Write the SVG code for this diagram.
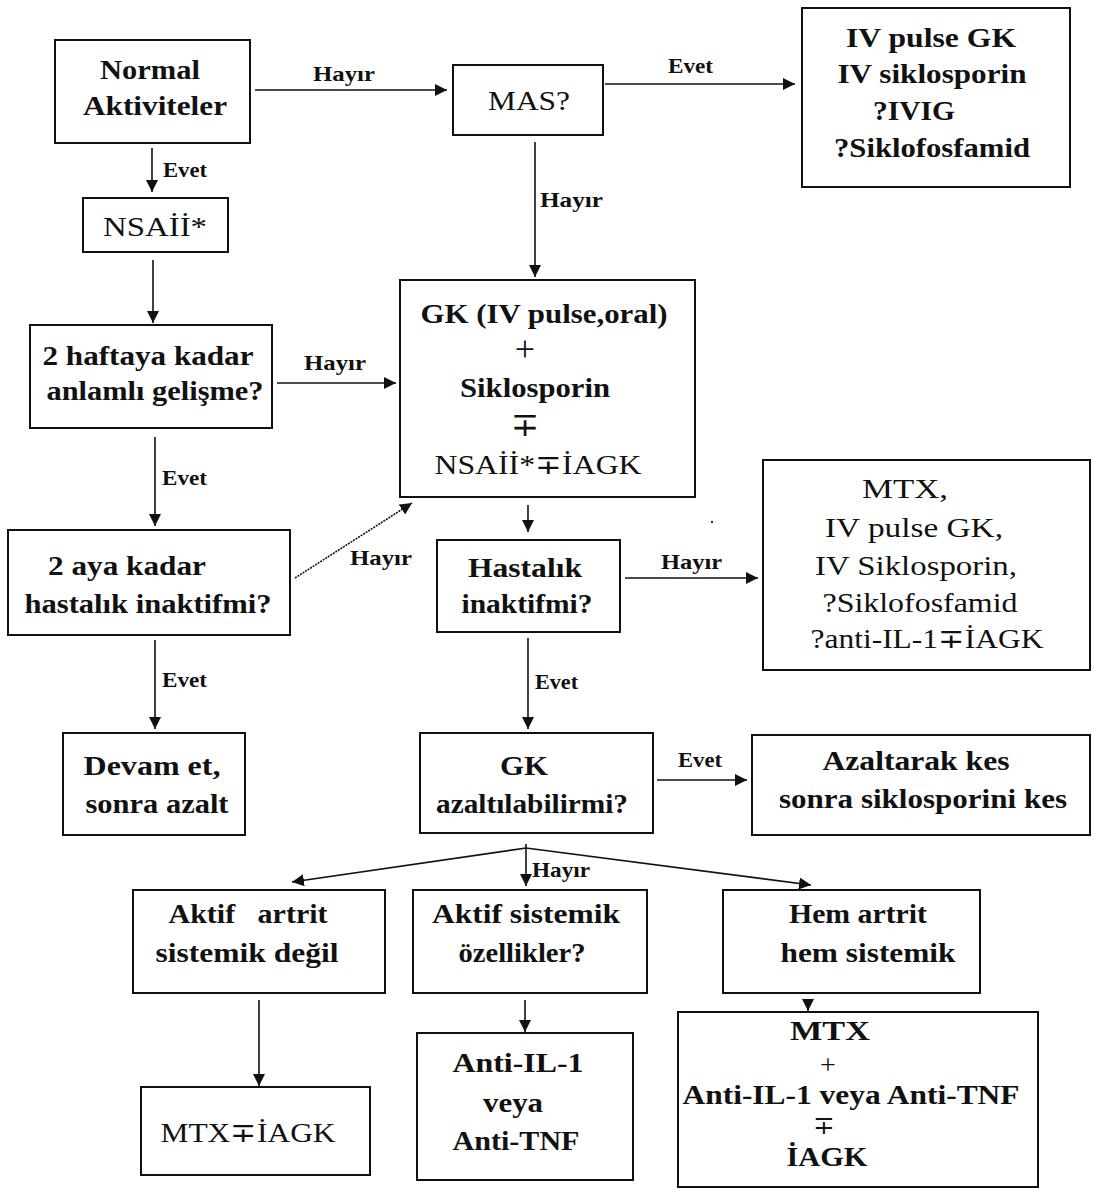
<svg xmlns="http://www.w3.org/2000/svg" width="1094" height="1189" viewBox="0 0 1094 1189">
<style>
.box{fill:#fff;stroke:#111;stroke-width:2}
.t{font-family:"Liberation Serif","Times New Roman",serif;font-size:27px;fill:#111;text-anchor:middle}
.b{font-weight:bold}
.op{font-family:"Liberation Serif","DejaVu Serif",serif;font-weight:normal;fill:#111;text-anchor:middle}
.lbl{font-family:"Liberation Serif","Times New Roman",serif;font-size:22px;font-weight:bold;fill:#111;text-anchor:start}
.c{stroke:#111;stroke-width:1.6;fill:none}
</style>
<defs>
<marker id="ah" markerUnits="userSpaceOnUse" markerWidth="12" markerHeight="12" refX="10" refY="5" orient="auto" viewBox="0 0 10 10">
<path d="M0,0 L10,5 L0,10 z" fill="#111"/>
</marker>
</defs>
<rect width="1094" height="1189" fill="#fff"/>

<g id="connectors">
<line class="c" x1="255" y1="90" x2="447" y2="90" marker-end="url(#ah)"/>
<text class="lbl" x="313" y="81" textLength="62" lengthAdjust="spacingAndGlyphs">Hayır</text>
<line class="c" x1="605" y1="84" x2="795" y2="84" marker-end="url(#ah)"/>
<text class="lbl" x="668" y="73" textLength="45" lengthAdjust="spacingAndGlyphs">Evet</text>
<line class="c" x1="152" y1="148" x2="152" y2="192" marker-end="url(#ah)"/>
<text class="lbl" x="163" y="177" textLength="44" lengthAdjust="spacingAndGlyphs">Evet</text>
<line class="c" x1="153" y1="260" x2="153" y2="323" marker-end="url(#ah)"/>
<line class="c" x1="535" y1="142" x2="535" y2="277" marker-end="url(#ah)"/>
<text class="lbl" x="540" y="207" textLength="63" lengthAdjust="spacingAndGlyphs">Hayır</text>
<line class="c" x1="277" y1="383" x2="396" y2="383" marker-end="url(#ah)"/>
<text class="lbl" x="304" y="370" textLength="62" lengthAdjust="spacingAndGlyphs">Hayır</text>
<line class="c" x1="155" y1="437" x2="155" y2="526" marker-end="url(#ah)"/>
<text class="lbl" x="162" y="485" textLength="45" lengthAdjust="spacingAndGlyphs">Evet</text>
<line class="c" x1="295" y1="578" x2="412" y2="503" stroke-width="1.2" stroke-dasharray="2,1" marker-end="url(#ah)"/>
<text class="lbl" x="350" y="565" textLength="62" lengthAdjust="spacingAndGlyphs">Hayır</text>
<line class="c" x1="155" y1="640" x2="155" y2="729" marker-end="url(#ah)"/>
<text class="lbl" x="162" y="687" textLength="45" lengthAdjust="spacingAndGlyphs">Evet</text>
<line class="c" x1="528" y1="505" x2="528" y2="532" marker-end="url(#ah)"/>
<line class="c" x1="625" y1="578" x2="758" y2="578" marker-end="url(#ah)"/>
<text class="lbl" x="661" y="569" textLength="61" lengthAdjust="spacingAndGlyphs">Hayır</text>
<line class="c" x1="528" y1="638" x2="528" y2="729" marker-end="url(#ah)"/>
<text class="lbl" x="535" y="689" textLength="43" lengthAdjust="spacingAndGlyphs">Evet</text>
<line class="c" x1="657" y1="780" x2="747" y2="780" marker-end="url(#ah)"/>
<text class="lbl" x="678" y="767" textLength="44" lengthAdjust="spacingAndGlyphs">Evet</text>
<line class="c" x1="526" y1="844" x2="526" y2="886" marker-end="url(#ah)"/>
<line class="c" x1="526" y1="848" x2="292" y2="882" marker-end="url(#ah)"/>
<line class="c" x1="526" y1="848" x2="811" y2="885" marker-end="url(#ah)"/>
<text class="lbl" x="532" y="877" textLength="58" lengthAdjust="spacingAndGlyphs">Hayır</text>
<line class="c" x1="259" y1="1000" x2="259" y2="1086" marker-end="url(#ah)"/>
<line class="c" x1="525" y1="1000" x2="525" y2="1032" marker-end="url(#ah)"/>
<line class="c" x1="808" y1="1000" x2="808" y2="1011" marker-end="url(#ah)"/>
<circle cx="712" cy="522" r="1.2" fill="#333"/>
</g>

<g id="n-normal">
<rect class="box" x="55" y="40" width="195" height="103"/>
<text class="t b" x="150" y="79" textLength="100" lengthAdjust="spacingAndGlyphs">Normal</text>
<text class="t b" x="155" y="115" textLength="144" lengthAdjust="spacingAndGlyphs">Aktiviteler</text>
</g>

<g id="n-mas">
<rect class="box" x="453" y="65" width="150" height="70"/>
<text class="t" x="529" y="110" textLength="82" lengthAdjust="spacingAndGlyphs">MAS?</text>
</g>

<g id="n-ivpulse">
<rect class="box" x="802" y="8" width="268" height="179"/>
<text class="t b" x="931" y="47" textLength="170" lengthAdjust="spacingAndGlyphs">IV pulse GK</text>
<text class="t b" x="932" y="83" textLength="189" lengthAdjust="spacingAndGlyphs">IV siklosporin</text>
<text class="t b" x="914" y="120" textLength="82" lengthAdjust="spacingAndGlyphs">?IVIG</text>
<text class="t b" x="932" y="157" textLength="196" lengthAdjust="spacingAndGlyphs">?Siklofosfamid</text>
</g>

<g id="n-nsaii">
<rect class="box" x="83" y="198" width="145" height="54"/>
<text class="t" x="155" y="236" textLength="104" lengthAdjust="spacingAndGlyphs">NSAİİ*</text>
</g>

<g id="n-2hafta">
<rect class="box" x="30" y="325" width="242" height="103"/>
<text class="t b" x="148" y="365" textLength="211" lengthAdjust="spacingAndGlyphs">2 haftaya kadar</text>
<text class="t b" x="155" y="400" textLength="217" lengthAdjust="spacingAndGlyphs">anlamlı gelişme?</text>
</g>

<g id="n-gk">
<rect class="box" x="400" y="280" width="295" height="217"/>
<text class="t b" x="544" y="323" textLength="247" lengthAdjust="spacingAndGlyphs">GK (IV pulse,oral)</text>
<text class="op" x="525" y="361" style="font-size:36px">+</text>
<text class="t b" x="535" y="397" textLength="150" lengthAdjust="spacingAndGlyphs">Siklosporin</text>
<text class="op" x="525" y="436" style="font-size:34px">∓</text>
<text class="t" x="538" y="474" textLength="207" lengthAdjust="spacingAndGlyphs">NSAİİ*∓İAGK</text>
</g>

<g id="n-mtx-right">
<rect class="box" x="763" y="460" width="327" height="210"/>
<text class="t" x="905" y="498" textLength="86" lengthAdjust="spacingAndGlyphs">MTX,</text>
<text class="t" x="914" y="537" textLength="178" lengthAdjust="spacingAndGlyphs">IV pulse GK,</text>
<text class="t" x="916" y="575" textLength="202" lengthAdjust="spacingAndGlyphs">IV Siklosporin,</text>
<text class="t" x="920" y="612" textLength="195" lengthAdjust="spacingAndGlyphs">?Siklofosfamid</text>
<text class="t" x="927" y="648" textLength="233" lengthAdjust="spacingAndGlyphs">?anti-IL-1∓İAGK</text>
</g>

<g id="n-2aya">
<rect class="box" x="8" y="530" width="282" height="105"/>
<text class="t b" x="127" y="575" textLength="158" lengthAdjust="spacingAndGlyphs">2 aya kadar</text>
<text class="t b" x="148" y="613" textLength="247" lengthAdjust="spacingAndGlyphs">hastalık inaktifmi?</text>
</g>

<g id="n-hastalik">
<rect class="box" x="437" y="540" width="183" height="92"/>
<text class="t b" x="525" y="577" textLength="114" lengthAdjust="spacingAndGlyphs">Hastalık</text>
<text class="t b" x="527" y="613" textLength="131" lengthAdjust="spacingAndGlyphs">inaktifmi?</text>
</g>

<g id="n-devam">
<rect class="box" x="63" y="733" width="182" height="102"/>
<text class="t b" x="152" y="775" textLength="137" lengthAdjust="spacingAndGlyphs">Devam et,</text>
<text class="t b" x="157" y="813" textLength="143" lengthAdjust="spacingAndGlyphs">sonra azalt</text>
</g>

<g id="n-gkazalt">
<rect class="box" x="420" y="733" width="233" height="100"/>
<text class="t b" x="524" y="775" textLength="48" lengthAdjust="spacingAndGlyphs">GK</text>
<text class="t b" x="532" y="813" textLength="192" lengthAdjust="spacingAndGlyphs">azaltılabilirmi?</text>
</g>

<g id="n-azaltarak">
<rect class="box" x="752" y="735" width="338" height="100"/>
<text class="t b" x="916" y="770" textLength="187" lengthAdjust="spacingAndGlyphs">Azaltarak kes</text>
<text class="t b" x="923" y="808" textLength="288" lengthAdjust="spacingAndGlyphs">sonra siklosporini kes</text>
</g>

<g id="n-aktifartrit">
<rect class="box" x="133" y="890" width="252" height="103"/>
<text class="t b" x="248" y="923" textLength="159" lengthAdjust="spacingAndGlyphs" xml:space="preserve">Aktif   artrit</text>
<text class="t b" x="247" y="962" textLength="183" lengthAdjust="spacingAndGlyphs">sistemik değil</text>
</g>

<g id="n-aktifsistemik">
<rect class="box" x="413" y="890" width="234" height="103"/>
<text class="t b" x="526" y="923" textLength="188" lengthAdjust="spacingAndGlyphs">Aktif sistemik</text>
<text class="t b" x="522" y="962" textLength="127" lengthAdjust="spacingAndGlyphs">özellikler?</text>
</g>

<g id="n-hem">
<rect class="box" x="723" y="890" width="257" height="103"/>
<text class="t b" x="858" y="923" textLength="138" lengthAdjust="spacingAndGlyphs">Hem artrit</text>
<text class="t b" x="868" y="962" textLength="175" lengthAdjust="spacingAndGlyphs">hem sistemik</text>
</g>

<g id="n-mtxiagk">
<rect class="box" x="141" y="1087" width="229" height="88"/>
<text class="t" x="248" y="1142" textLength="175" lengthAdjust="spacingAndGlyphs">MTX∓İAGK</text>
</g>

<g id="n-antiil1">
<rect class="box" x="417" y="1033" width="216" height="147"/>
<text class="t b" x="518" y="1072" textLength="131" lengthAdjust="spacingAndGlyphs">Anti-IL-1</text>
<text class="t b" x="513" y="1112" textLength="60" lengthAdjust="spacingAndGlyphs">veya</text>
<text class="t b" x="516" y="1150" textLength="127" lengthAdjust="spacingAndGlyphs">Anti-TNF</text>
</g>

<g id="n-mtxplus">
<rect class="box" x="678" y="1012" width="360" height="175"/>
<text class="t b" x="830" y="1040" textLength="80" lengthAdjust="spacingAndGlyphs">MTX</text>
<text class="op" x="828" y="1074" style="font-size:28px">+</text>
<text class="t b" x="851" y="1104" textLength="337" lengthAdjust="spacingAndGlyphs">Anti-IL-1 veya Anti-TNF</text>
<text class="op" x="824" y="1134" style="font-size:26px">∓</text>
<text class="t b" x="827" y="1166" textLength="81" lengthAdjust="spacingAndGlyphs">İAGK</text>
</g>
</svg>
